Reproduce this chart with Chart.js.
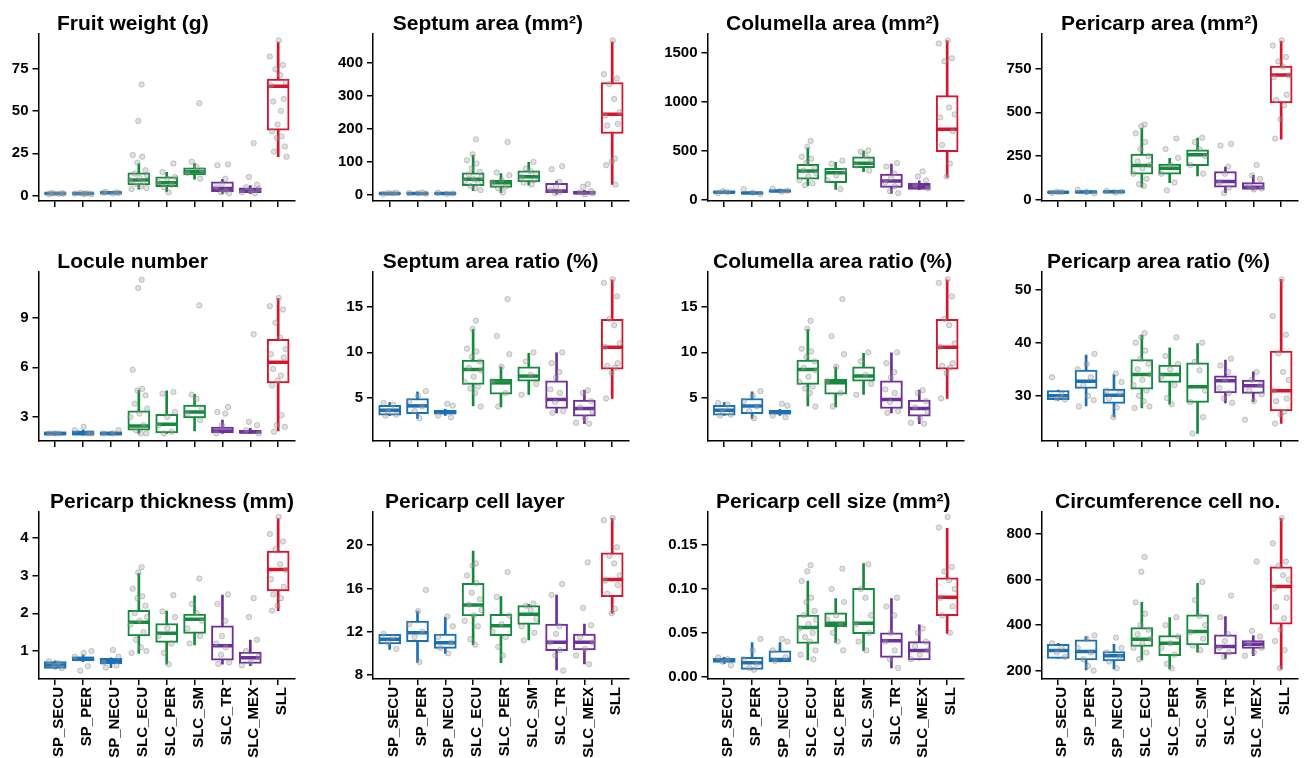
<!DOCTYPE html>
<html><head><meta charset="utf-8">
<script src="https://cdn.jsdelivr.net/npm/chart.js@4.4.1/dist/chart.umd.min.js"></script>
<style>
html,body{margin:0;padding:0;background:#fff;width:1311px;height:758px;overflow:hidden;position:relative}
canvas{position:absolute}
</style></head><body>
<script>
// ---------- DATA ----------
const categories = ['SP_SECU','SP_PER','SP_NECU','SLC_ECU','SLC_PER','SLC_SM','SLC_TR','SLC_MEX','SLL'];
const titles = ['Fruit weight (g)','Septum area (mm²)','Columella area (mm²)','Pericarp area (mm²)',
  'Locule number','Septum area ratio (%)','Columella area ratio (%)','Pericarp area ratio (%)',
  'Pericarp thickness (mm)','Pericarp cell layer','Pericarp cell size (mm²)','Circumference cell no.'];

// box stats per group: [lower whisker, q1, median, q3, upper whisker]
const fruitBox = [[0.7,1.0,1.3,1.7,2.0],[0.7,1.0,1.3,1.7,2.1],[1.0,1.4,1.8,2.3,2.6],[3.8,6.3,9.2,13.5,19],[2.4,5.3,7.6,11.2,13.8],[9.8,12.2,14.1,16.5,19],[1.2,2.4,4.3,8.2,9.6],[1.2,1.8,2.9,4.7,6],[23,38.6,64.5,68.8,90.6]];
const fruitPts = [[0.9,1.1,1.3,1.5,1.6,1.2],[0.9,1.0,1.2,1.4,1.6,1.3],[1.3,1.6,1.8,2.0,2.2],[65.5,44,24,23,19.5,15,13,12,10.5,9,8,7,5.5,4.5,4],[19,14,11,10,8,6.5,5,2],[54.5,20,17,15,13.5,10],[18.5,18,10,7,5,3,2,1.5],[31,11,6.5,5,4,3,2,1.5],[91.5,82,77,74.5,71,67,65,57,55.5,50,42,38,35,34,29,26,23]];

const septumBox = [[2,3,5,7,9],[2,3,5,7,9],[2,3,5,7,9],[13,28,48,67,121],[7,23,37,45,65],[30,40,55,73,99],[3,7,12,35,42],[1,3,7,12,14],[32,186,244,340,463]];
const septumPts = [[3,5,6,7],[4,5,6,8],[3,5,7],[168,123,105,95,80,70,62,55,48,42,35,28,20,15],[160,68,60,45,38,25,20,8],[100,80,72,65,55,45,38,32],[87,78,40,25,15,10,5],[33,25,12,8,5,2],[467,365,352,335,290,250,240,215,210,110,100,90,32]];

const columellaBox = [[65,72,80,88,95],[55,62,72,80,88],[75,85,92,102,110],[145,213,295,363,531],[108,176,278,322,383],[288,328,373,440,498],[68,129,193,264,366],[105,108,135,170,196],[231,491,718,1060,1619]];
const columellaPts = [[70,80,90],[60,75,110],[85,95,115],[600,540,440,420,380,330,300,270,240,200,170,150],[400,370,300,250,200,110],[505,490,450,400,350,300],[375,340,270,220,180,140,90,70],[290,240,200,150,120],[1620,1590,1440,1410,940,870,840,700,560,370,240]];

const pericarpBox = [[35,40,44,48,52],[35,40,46,52,56],[38,42,47,52,56],[73,147,196,262,410],[99,147,181,204,238],[137,196,258,286,353],[42,73,105,162,187],[58,61,73,99,140],[347,553,712,763,906]];
const pericarpPts = [[40,45,48],[38,45,58],[42,48,52],[430,420,380,330,290,250,220,200,180,150,120,90,80],[350,290,240,200,150,100,55],[355,330,290,250,200,150],[320,310,190,150,100,70,40],[200,140,120,80,65,60],[910,880,815,790,760,710,700,600,570,540,460,350]];

const loculeBox = [[1.9,1.9,2.0,2.1,2.1],[1.9,1.9,2.0,2.15,2.2],[1.9,1.9,2.0,2.1,2.1],[2.0,2.19,2.45,3.36,4.62],[2.0,2.03,2.56,3.16,4.58],[2.15,2.94,3.3,3.71,4.36],[2.0,2.03,2.15,2.39,2.8],[2.0,2.0,2.1,2.19,2.3],[2.15,5.06,6.3,7.7,10.17]];
const loculePts = [[2,2,2],[2,2.4,2.2,2],[2,2.2,2],[11.3,10.8,5.85,4.7,4.6,4.3,3.8,3.5,3.2,3,2.5,2.2,2,2],[4.5,4.4,3.3,3.0,2.5,2.1,2],[9.75,4.35,4.1,3.5,3.2,2.8],[3.6,3.3,3.2,2.5,2],[8.0,2.7,2.5,2.2,2],[10.2,9.7,9.5,8.7,7.8,7.1,6.8,6.6,5.9,5.5,5.2,4.9,3.1,2.5,2.4,2.1]];

const septumRatioBox = [[3.0,3.03,3.59,4.14,4.44],[2.67,3.22,4.07,4.89,5.62],[3.0,3.14,3.35,3.59,3.7],[4.07,6.44,8.1,9.14,12.56],[3.96,5.37,6.62,7.0,8.4],[5.33,6.81,7.37,8.4,9.89],[3.29,3.78,4.78,6.84,9.96],[2.11,2.92,3.78,4.7,5.81],[4.89,8.14,10.56,13.67,18.03]];
const septumRatioPts = [[4.4,4.2,3.5,3.1,3.0],[5.7,5.2,4.6,4.0,3.5,2.7],[4.3,4.1,3.0,2.8],[13.5,12.6,10.4,10.1,9.5,9,8.3,8,7.3,6.7,6.2,6,5.5,4],[15.9,11.8,9.8,8.4,6.8,5.5,4],[10,9,7.5,6.5,5.3],[10,8.8,7.8,7.2,5.9,5.5,4.5,3.5,3.3],[5.8,5.5,4.6,3.9,3.4,2.7,2.2,2.1],[18.1,17.7,16.2,13.7,13,11,10.6,8.8,8.5,8.3,7.7,4.9]];

const columellaRatioBox = septumRatioBox.map(b => b.slice());
const columellaRatioPts = septumRatioPts.map(p => p.slice());

const pericarpRatioBox = [[29.2,29.3,30.0,31.0,31.1],[28.12,31.39,32.76,34.83,37.65],[26.05,28.57,30.13,31.26,34.02],[27.74,31.26,34.02,36.84,41.4],[28.44,32.51,34.02,35.77,39.02],[22.93,28.76,31.69,36.2,39.85],[28.68,30.56,32.82,33.76,36.71],[28.88,30.45,31.88,32.95,34.51],[24.81,27.18,30.94,38.4,51.9]];
const pericarpRatioPts = [[33.5,30.3,29.5,29.3],[37.9,36,35,33.5,32,30,29.2,28],[34.2,32.6,31,30.5,29.5,27.8,26],[41.8,41,40,38.5,37,36,35,34,33,32,31,30,29,28,27.7],[41,37.5,36,35,33.6,32,29.6,28.4],[40,36.4,34.8,31,28.8,26,22.9],[37,35.7,34.5,33,31.5,30.5,29.5,28.7],[34.5,33,32,31,30.3,29,25.5],[51.9,45,41.5,38,34.5,33,31,29.5,29,27,26.5,24.8]];

const thickBox = [[0.53,0.54,0.63,0.72,0.74],[0.72,0.74,0.8,0.85,0.9],[0.56,0.66,0.72,0.81,0.82],[0.94,1.4,1.76,2.08,3.06],[0.65,1.23,1.47,1.73,2.06],[1.16,1.47,1.84,1.98,2.46],[0.65,0.76,1.14,1.67,2.48],[0.61,0.67,0.82,0.97,1.29],[2.07,2.59,3.16,3.65,4.51]];
const thickPts = [[0.73,0.68,0.6,0.55],[1.0,0.95,0.85,0.6,0.48],[1.03,0.85,0.7,0.62,0.56],[3.22,3.08,2.65,2.45,2.4,2.2,2.0,1.9,1.8,1.7,1.5,1.3,1.1,1.0,0.95],[2.48,2.05,1.9,1.6,1.4,1.2,0.95,0.65],[2.92,2.25,2.0,1.8,1.6,1.4,1.2],[2.5,2.25,1.8,1.4,1.2,1.1,0.9,0.7,0.66],[2.4,1.9,1.3,1.0,0.85,0.7,0.62],[4.55,4.1,3.9,3.7,3.3,3.15,2.9,2.7,2.5,2.4,2.2,2.07]];

const layerBox = [[10.37,10.86,11.29,11.75,11.75],[9.17,11.08,11.9,12.98,13.91],[10.0,10.46,10.98,11.78,13.32],[10.8,13.45,14.46,16.46,19.45],[9.14,11.63,12.55,13.6,15.23],[11.23,12.68,13.6,14.4,14.52],[8.46,10.25,11.02,12.71,15.38],[9.02,10.31,11.02,11.78,12.71],[13.69,15.23,16.83,19.29,22.46]];
const layerPts = [[11.8,11.5,11,10.4],[15.85,13.9,12.7,12,11.5,9.2],[13.4,12.5,11.5,11,10.5,10],[18.3,18.1,17.2,16.5,15.6,15,14.5,14,13.5,13,12.5,11.3,10.8],[17.5,15.2,13.5,12.7,12,11.5,10.6,9.8],[14.6,14.4,14.0,13.2,12.5,11.9,11.2],[16.4,15.4,12.5,11.8,11,10.3,9.8,8.4],[18.4,14.2,12.6,11.5,11,10.4,9.8,9.0],[22.5,22.3,19.8,19,18.3,17.2,16.7,16.3,15.5,14.1,13.7]];

const cellSizeBox = [[0.015,0.0163,0.019,0.0209,0.022],[0.0084,0.0084,0.016,0.022,0.039],[0.017,0.017,0.0197,0.0296,0.039],[0.019,0.038,0.056,0.0702,0.109],[0.039,0.057,0.061,0.0729,0.089],[0.0296,0.049,0.061,0.1006,0.129],[0.01,0.022,0.041,0.05,0.089],[0.019,0.019,0.03,0.04,0.059],[0.0494,0.0695,0.0904,0.1128,0.169]];
const cellSizePts = [[0.022,0.02,0.017,0.013],[0.043,0.03,0.02,0.015,0.01,0.008],[0.043,0.04,0.03,0.022,0.018],[0.127,0.12,0.109,0.09,0.085,0.075,0.07,0.065,0.06,0.055,0.05,0.045,0.04,0.03,0.025,0.02],[0.123,0.1,0.085,0.07,0.065,0.06,0.05,0.04,0.03],[0.128,0.1,0.09,0.07,0.06,0.05,0.04,0.03],[0.09,0.08,0.07,0.05,0.04,0.03,0.02,0.01],[0.055,0.05,0.04,0.035,0.03,0.025,0.02],[0.182,0.17,0.125,0.12,0.11,0.1,0.09,0.08,0.07,0.05]];

const circBox = [[254,254,288,316,320],[203,247,284,335,350],[207,243,265,284,316],[247,306,338,389,500],[207,266,320,354,433],[281,313,372,445,584],[254,273,306,357,438],[266,298,316,332,354],[207,404,570,657,870]];
const circPts = [[320,300,280,260],[355,340,300,280,250,220,200],[345,300,280,260,240,210],[700,635,500,450,400,380,360,340,320,300,280,250],[435,400,350,320,300,270,230,210],[590,510,440,400,370,340,310,290],[530,435,360,330,300,280,260],[680,375,350,320,300,280,265],[870,760,680,660,620,600,560,520,480,430,380,330,290,210]];

// y axis ranges and tick labels
const yRanges = [[-3.1,95.7],[-18,488.5],[-10,1694],[-5.7,950],[1.54,11.77],[0.18,18.9],[0.18,18.9],[21.5,53.3],[0.26,4.69],[7.63,23.08],[-0.0026,0.188],[163,899]];
const yTickLabels = [['0','25','50','75'],['0','100','200','300','400'],['0','500','1000','1500'],['0','250','500','750'],
  ['3','6','9'],['5','10','15'],['5','10','15'],['30','40','50'],
  ['1','2','3','4'],['8','12','16','20'],['0.00','0.05','0.10','0.15'],['200','400','600','800']];

const boxes = [fruitBox,septumBox,columellaBox,pericarpBox,loculeBox,septumRatioBox,columellaRatioBox,pericarpRatioBox,thickBox,layerBox,cellSizeBox,circBox];
const pts = [fruitPts,septumPts,columellaPts,pericarpPts,loculePts,septumRatioPts,columellaRatioPts,pericarpRatioPts,thickPts,layerPts,cellSizePts,circPts];

// ---------- STYLE ----------
const BLUE='#1a70b5', GREEN='#138a3c', PURPLE='#6d2f9c', RED='#d7142c';
const groupColors = [BLUE,BLUE,BLUE,GREEN,GREEN,GREEN,PURPLE,PURPLE,RED];
const jitter = [-0.22,0.12,-0.05,0.24,-0.15,0.3,0.02,-0.3,0.17,-0.1,0.07,0.27,-0.26,0.2,-0.18,0.1,-0.02];
const colX=[38.5,373,707.5,1041.5], plotW=266;
const rowTop=[33.3,272,511.7], rowBottom=[201,440.7,679];
const titleX=[57,392.7,726,1061,57.3,382.7,713,1047,50,385,716,1055];
const titleBase=[30,268,507.5];
const FONT='"Liberation Sans", Arial, Helvetica, sans-serif';
Chart.defaults.font.family = FONT;
Chart.defaults.font.weight = 'bold';
Chart.defaults.font.size = 15;
Chart.defaults.color = '#000';

const titlePlugin = {
  id:'ptitle',
  afterDraw(chart, args, o){
    const ctx = chart.ctx; ctx.save();
    ctx.font = 'bold 21px ' + FONT; ctx.fillStyle = '#000'; ctx.textBaseline='alphabetic'; ctx.textAlign='left';
    ctx.fillText(o.text, o.x, o.y); ctx.restore();
  }
};

boxes.forEach((box,k)=>{
  const r=Math.floor(k/4), c=k%4;
  const xh = r===2 ? 79 : 16;
  const left = Math.floor(colX[c]-56), top = Math.floor(rowTop[r]) - 40;
  const axw = colX[c]-left;
  const padT = rowTop[r]-top;
  const w = Math.ceil(axw + plotW + 4);
  const h = Math.ceil(padT + (rowBottom[r]-rowTop[r]) + xh);
  const cv = document.createElement('canvas');
  cv.width=w; cv.height=h; cv.style.left=left+'px'; cv.style.top=top+'px';
  cv.style.width=w+'px'; cv.style.height=h+'px';
  document.body.appendChild(cv);
  const tickLabels = yTickLabels[k];
  const tickVals = tickLabels.map(parseFloat);
  const points = [];
  pts[k].forEach((arr,i)=>arr.forEach((v,j)=>points.push({x:i+jitter[(j+i*5)%jitter.length], y:v})));
  new Chart(cv, {
    type:'bar',
    data:{datasets:[
      {type:'bar', data: box.map((b,i)=>({x:i,y:[b[0],b[4]]})), backgroundColor: groupColors, borderWidth:0, barThickness:2, grouped:false, order:3},
      {type:'bar', data: box.map((b,i)=>({x:i,y:[b[1],b[3]]})), backgroundColor:'#ffffff', borderColor: groupColors, borderWidth:2, borderSkipped:false, grouped:false, barThickness:22, order:2},
      {type:'scatter', data: box.map((b,i)=>({x:i,y:b[2]})), pointStyle:'line', pointRadius:10.6, pointBorderWidth:3.5, pointBorderColor: groupColors, order:1},
      {type:'scatter', data: points, pointStyle:'circle', pointRadius:2.7, pointBorderWidth:0.8, pointBackgroundColor:'rgba(165,165,165,0.35)', pointBorderColor:'rgba(115,115,115,0.45)', order:0}
    ]},
    options:{
      responsive:false, animation:false, events:[], devicePixelRatio:1,
      layout:{padding:{top:padT,left:0,right:w-axw-plotW,bottom:0}},
      plugins:{legend:{display:false}, tooltip:{enabled:false}, ptitle:{text:titles[k], x:titleX[k]-left, y:titleBase[r]-top}},
      scales:{
        x:{type:'linear', min:-0.6, max:8.6, offset:false,
          afterBuildTicks:s=>{s.ticks = categories.map((_,i)=>({value:i}));},
          afterFit:s=>{s.height = xh;},
          ticks:{display: r===2, autoSkip:false, maxRotation:90, minRotation:90, padding:2, labelOffset:4, color:'#000', font:{size:15, weight:'bold'},
            callback:(v)=>categories[Math.round(v)]},
          grid:{offset:false, drawOnChartArea:false, drawTicks:true, tickLength:6, color:'#000', lineWidth:1.5},
          border:{display:true, color:'#000', width:1.5}},
        y:{type:'linear', min:yRanges[k][0], max:yRanges[k][1],
          afterBuildTicks:s=>{s.ticks = tickVals.map(v=>({value:v}));},
          afterFit:s=>{s.width = axw;},
          ticks:{padding:4, color:'#000', font:{size:15, weight:'bold'}, callback:(v,i)=>tickLabels[i]},
          grid:{drawOnChartArea:false, drawTicks:true, tickLength:6, color:'#000', lineWidth:1.5},
          border:{display:true, color:'#000', width:1.5}}
      }
    },
    plugins:[titlePlugin]
  });
});
</script>
</body></html>
